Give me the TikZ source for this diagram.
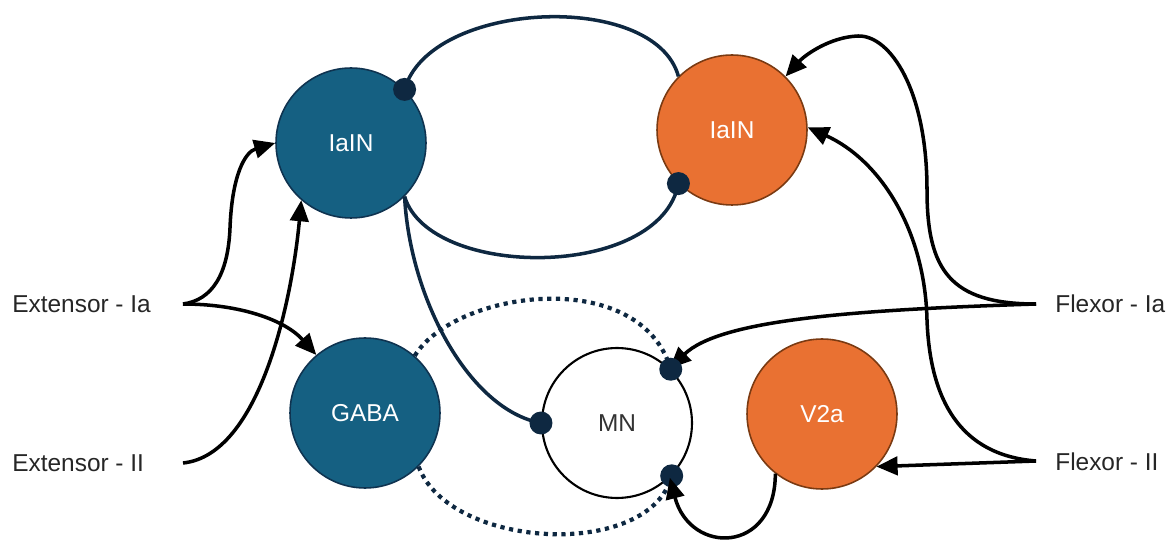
\documentclass[tikz,border=0pt]{standalone}
\usepackage{fontspec}
\setmainfont{Liberation Sans}
\usetikzlibrary{arrows.meta}
\definecolor{cellblue}{HTML}{156082}
\definecolor{blueedge}{HTML}{0F3350}
\definecolor{cellorange}{HTML}{E97132}
\definecolor{orangeedge}{HTML}{7A3A12}
\definecolor{navy}{HTML}{0E2841}
\begin{document}
\begin{tikzpicture}[x=0.02cm,y=-0.02cm,
  neuron/.style={circle, minimum size=3cm, inner sep=0pt, line width=0.9pt,
    font=\fontsize{13.9}{16}\selectfont},
  bluecell/.style={neuron, fill=cellblue, draw=blueedge, text=white},
  orangecell/.style={neuron, fill=cellorange, draw=orangeedge, text=white},
  mncell/.style={neuron, fill=white, draw=black, line width=1.2pt, text=black!80},
  inlabel/.style={inner sep=0pt, font=\fontsize{13.9}{16}\selectfont, text=black!85},
  excite/.style={draw=black, line width=2pt, -{Triangle[length=12pt,width=10.5pt]}},
  inhib/.style={draw=navy, line width=2pt},
  inhibdot/.style={draw=navy, line width=2.4pt, dash pattern=on 2.4pt off 2.6pt},
  synapse/.style={circle, fill=navy, minimum size=0.46cm, inner sep=0pt}
]
\useasboundingbox (0,0) rectangle (1173,540);

% neurons
\node[bluecell]   (iaL)  at (351,143) {IaIN};
\node[orangecell] (iaR)  at (732,130) {IaIN};
\node[bluecell]   (gaba) at (365,413) {GABA};
\node[mncell]     (mn)   at (617,423) {MN};
\node[orangecell] (v2a)  at (822,414) {V2a};

% afferent inputs
\node[inlabel, anchor=west] (lExtIa) at (12,304) {Extensor - Ia};
\node[inlabel, anchor=west] (lExtII) at (12,463) {Extensor - II};
\node[inlabel, anchor=west] (lFlxIa) at (1055,304) {Flexor - Ia};
\node[inlabel, anchor=west] (lFlxII) at (1055,462) {Flexor - II};
\coordinate (eIa) at (183,304);
\coordinate (eII) at (183,463);
\coordinate (fIa) at (1036,304);
\coordinate (fII) at (1036,461);

% inhibitory connections between the Ia interneurons and onto MN
\draw[inhib] (iaL.45) .. controls (430,0) and (655,-10) .. (iaR.135);
\draw[inhib] (iaL.-45) .. controls (430,280) and (660,280) .. (iaR.-135);
\draw[inhib] (iaL.-45) .. controls (410,300) and (470,410) .. (mn.west);

% GABA presynaptic loops (dotted)
\draw[inhibdot] (gaba.49) .. controls (455,290) and (640,265) .. (mn.45);
\draw[inhibdot] (gaba.-45) .. controls (450,550) and (650,560) .. (mn.-44);

% extensor afferents
\draw[excite] (eIa) .. controls (212,300) and (228,275) .. (230,228)
  .. controls (232,175) and (245,152) .. (iaL.west);
\draw[excite] (eIa) .. controls (240,304) and (285,320) .. (gaba.130);
\draw[excite] (eII) .. controls (260,455) and (292,300) .. (iaL.229);

% flexor afferents
\draw[excite] (fIa) .. controls (950,304) and (927,270) .. (927,190)
  .. controls (927,90) and (890,35) .. (858,36)
  .. controls (830,37) and (805,55) .. (iaR.45);
\draw[excite] (fIa) .. controls (850,310) and (720,320) .. (mn.46);
\draw[excite] (fII) .. controls (960,455) and (930,400) .. (927,320)
  .. controls (925,230) and (880,160) .. (iaR.2);
\draw[excite] (fII) -- (v2a.-44);

% synaptic terminals
\node[synapse] (sA) at (iaL.45) {};
\node[synapse] (sB) at (iaR.-135) {};
\node[synapse] (sC) at (mn.west) {};
\node[synapse] (sD) at (mn.45) {};
\node[synapse] (sE) at (mn.-44) {};

% V2a onto MN
\draw[excite] (v2a.-128) .. controls (775,555) and (690,555) .. (mn.-46);
\end{tikzpicture}
\end{document}
